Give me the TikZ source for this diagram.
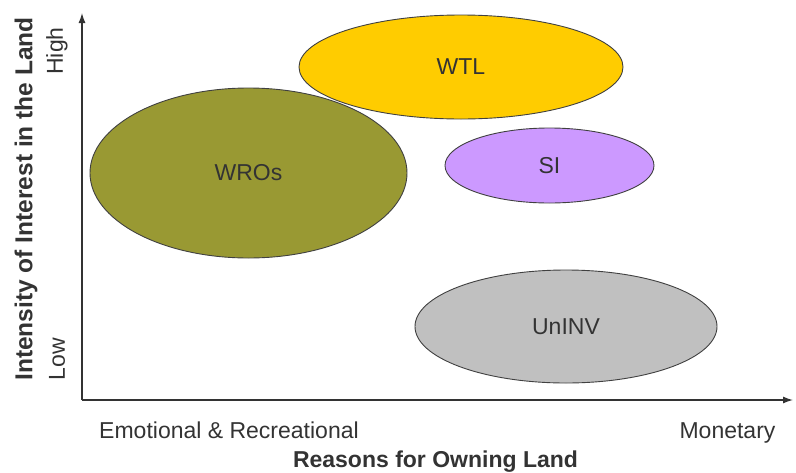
\documentclass[tikz,border=0pt]{standalone}
\usepackage{fontspec}
\setmainfont{Liberation Sans}
\usetikzlibrary{arrows.meta,shapes.geometric}
\definecolor{axisgrey}{HTML}{333333}
\definecolor{textgrey}{HTML}{333333}
\definecolor{wtlgold}{HTML}{FFCC00}
\definecolor{wroolive}{HTML}{999933}
\definecolor{sililac}{HTML}{CC99FF}
\definecolor{uninvgrey}{HTML}{C0C0C0}
\definecolor{rimgrey}{HTML}{404040}

\begin{document}
\begin{tikzpicture}[
  x=1pt, y=1pt,
  font=\fontsize{23}{27}\selectfont,
  >={Latex[length=10pt,width=7pt]},
  group/.style={ellipse, draw=rimgrey, line width=0.9pt, inner sep=0pt,
                text=textgrey},
  axis/.style={->, line width=1.3pt, axisgrey},
  ticklabel/.style={text=textgrey, inner sep=0pt},
  axislabel/.style={text=textgrey, inner sep=0pt, font=\fontsize{23}{27}\selectfont\bfseries},
]
\useasboundingbox (0,0) rectangle (796,-472);

% --- Axes ---
\coordinate (origin) at (82,-400);
\coordinate (ytop)   at (82,-13);
\coordinate (xend)   at (793,-400);
\draw[axis] (origin) -- (ytop);
\draw[axis] (origin) -- (xend);

% --- Landowner groups ---
\node[group, fill=wroolive,  minimum width=317pt, minimum height=170pt] (wros)  at (248.5,-173) {WROs};
\node[group, fill=wtlgold,   minimum width=324pt, minimum height=104pt] (wtl)   at (461,-67)  {WTL};
\node[group, fill=sililac,   minimum width=209pt, minimum height=75pt]  (si)    at (549.5,-165.5) {SI};
\node[group, fill=uninvgrey, minimum width=302pt, minimum height=113pt] (uninv) at (566,-326.5) {UnINV};

% --- Axis labels ---
\node[ticklabel, rotate=90] (high) at (57,-51)  {High};
\node[ticklabel, rotate=90] (low)  at (57,-359) {Low};
\node[axislabel, rotate=90, font=\fontsize{24.5}{28}\selectfont\bfseries] (ylab) at (26,-199) {Intensity of Interest in the Land};
\node[ticklabel, anchor=base] (emo) at (229,-438) {Emotional \& Recreational};
\node[ticklabel, anchor=base] (mon) at (727.5,-438) {Monetary};
\node[axislabel, anchor=base] (xlab) at (435.5,-467) {Reasons for Owning Land};

\end{tikzpicture}
\end{document}
